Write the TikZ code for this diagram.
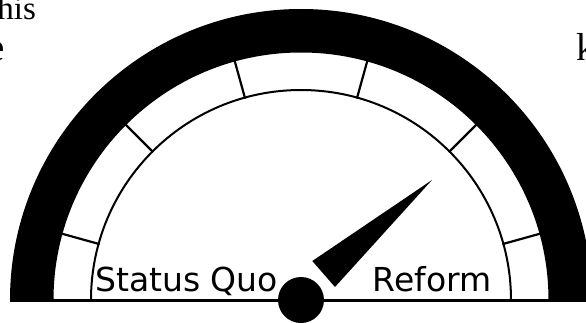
\documentclass[tikz,border=0pt]{standalone}
\usepackage{fontspec}
\setmainfont{Liberation Serif}
\newfontfamily\gaugefont{DejaVu Sans}
\begin{document}
\begin{tikzpicture}[x=1pt,y=1pt,
  tickline/.style={line width=2.2pt},
  gaugelabel/.style={font=\gaugefont\fontsize{33}{40}\selectfont, inner sep=0pt, anchor=base west},
  bgtext/.style={inner sep=0pt, outer sep=0pt}]
\useasboundingbox (-301,-22) rectangle (285,300);
\clip (-301,-22) rectangle (285,300);
% background text
\node[bgtext, anchor=base east, font=\fontsize{33}{40}\selectfont] (t1) at (-265,280) {this};
\node[bgtext, anchor=base east, font=\fontsize{39}{46}\selectfont] (t2) at (-296.5,240) {e};
\node[bgtext, anchor=base west, font=\fontsize{39}{46}\selectfont] (t3) at (275,240) {k};
% outer ring
\fill[black] (291,0) arc[start angle=0,end angle=180,radius=291] -- (-247.5,0) arc[start angle=180,end angle=0,radius=247.5] -- cycle;
% inner arc
\draw[line width=2pt] (210,0) arc[start angle=0,end angle=180,radius=210];
% ticks
\foreach \a in {15.5,45,74.5,105.5,135,164.5} \draw[tickline] (\a:209) -- (\a:248);
% baseline
\draw[line width=3pt] (-291,0) -- (290,0);
% labels
\node[gaugelabel] (sq) at (-206,9) {Status Quo};
\node[gaugelabel] (rf) at (71.5,9) {Reform};
% needle
\fill[black] (131,120) -- (11.3,39) -- (34,13) -- cycle;
% hub
\node[circle, fill=black, minimum size=46pt, inner sep=0pt] (hub) at (0,0) {};
\end{tikzpicture}
\end{document}
